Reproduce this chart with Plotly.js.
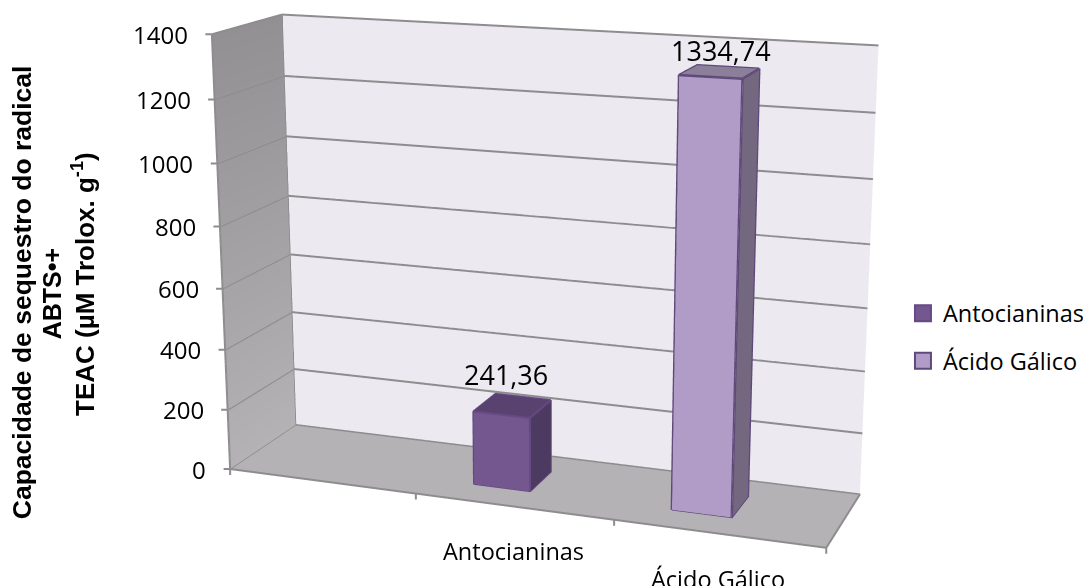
<!DOCTYPE html>
<html><head><meta charset="utf-8">
<script src="https://cdn.plot.ly/plotly-3.0.1.min.js"></script>
<style>html,body{margin:0;padding:0;background:#fff;overflow:hidden;width:1083px;height:586px}#chart{position:absolute}</style>
</head><body><div id="chart"></div>
<script>
var categories = ["", "Antocianinas", "Ácido Gálico"];
var values = [null, 241.36, 1334.74];
var yTicks = [0, 200, 400, 600, 800, 1000, 1200, 1400];
var yTitleLines = ["Capacidade de sequestro do radical", "ABTS•+", "TEAC (µM Trolox. g<sup>-1</sup>)"];

// Bar placement inside the category slots and along the depth axis
var barStart = [null, 1.2145, 2.2148];
var barWidth = 0.29;
var barDepth = [0.2967, 0.701];
var depthRange = [0, 1];
var valueMax = 1400;

// Canvas is taller than the window so the 45 degree lens gives a flatter perspective
var W = 1083, H = 1760, offsetLeft = 7, offsetTop = 581.87;
function px(v) { return (v - offsetLeft) / W; }
function py(v) { return 1 - (v + offsetTop) / H; }
var chart = document.getElementById('chart');
chart.style.left = offsetLeft + 'px';
chart.style.top = (-offsetTop) + 'px';
chart.style.width = W + 'px';
chart.style.height = H + 'px';

var camera = {
  eye: {x: 1.5624, y: -4.232, z: 1.1697},
  center: {x: -0.2056, y: 0.5784, z: -0.2395},
  up: {x: 0.0007, y: 0, z: 1}
};
var aspect = {x: 1.3908, y: 0.3332, z: 1};

var faceFront = ["", "#75578F", "#B09CC6"];
var faceSide = ["", "#4D3A60", "#746880"];
var faceTop = ["", "#5A4270", "#8B7F9A"];
var edge = ["", "#654A85", "#5F497A"];
var edgeWidth = [0, 4, 5];
var gridColor = '#8E8C8E';
var flat = {ambient: 1, diffuse: 0, specular: 0, roughness: 1, fresnel: 0};
var nCats = categories.length;

var traces = [];

// Left wall, darker towards the top
traces.push({type: 'mesh3d', x: [0, 0, 0, 0], y: [0, 1, 1, 0], z: [0, 0, valueMax, valueMax],
  i: [0, 0], j: [1, 2], k: [2, 3],
  vertexcolor: ['#B4B2B4', '#B4B2B4', '#929092', '#929092'], lighting: flat, hoverinfo: 'skip'});

// Gridlines run across the left wall and then the back wall
var gx = [], gy = [], gz = [];
yTicks.forEach(function (t) {
  gx.push(0, 0, nCats, null); gy.push(0, 1, 1, null); gz.push(t, t, t, null);
});
traces.push({type: 'scatter3d', mode: 'lines', x: gx, y: gy, z: gz,
  line: {color: gridColor, width: 4}, hoverinfo: 'skip', showlegend: false});

// One box per valued category, with its outline and a legend entry
values.forEach(function (v, i) {
  if (v === null) return;
  var a = barStart[i], b = a + barWidth, d0 = barDepth[0], d1 = barDepth[1];
  var X = [a, b, b, a, a, b, b, a], Y = [d0, d0, d1, d1, d0, d0, d1, d1], Z = [0, 0, 0, 0, v, v, v, v];
  var f = faceFront[i], s = faceSide[i], t = faceTop[i];
  traces.push({type: 'mesh3d', x: X, y: Y, z: Z,
    i: [0, 0, 1, 1, 4, 4, 3, 3, 0, 0, 0, 0], j: [1, 5, 2, 6, 5, 6, 2, 6, 3, 7, 1, 2], k: [5, 4, 6, 5, 6, 7, 6, 7, 7, 4, 2, 3],
    facecolor: [f, f, s, s, t, t, s, s, s, s, s, s], flatshading: true, lighting: flat, hoverinfo: 'skip'});
  var loop = [0, 1, 2, 6, 5, 4, 0, null, 1, 5, null, 4, 7, 6];
  function pick(arr) { return loop.map(function (k) { return k === null ? null : arr[k]; }); }
  traces.push({type: 'scatter3d', mode: 'lines', x: pick(X), y: pick(Y), z: pick(Z),
    line: {color: edge[i], width: edgeWidth[i]}, hoverinfo: 'skip', showlegend: false});
  traces.push({type: 'scatter3d', mode: 'markers', x: [null], y: [null], z: [null], name: categories[i],
    legendgroup: categories[i], showlegend: true, hoverinfo: 'skip',
    marker: {symbol: 'square', size: 16, color: f, line: {color: edge[i], width: 2}}});
});

// Floor outline and the two vertical wall edges at the left
traces.push({type: 'scatter3d', mode: 'lines',
  x: [0, nCats, nCats, 0, 0, null, 0, 0, null, 0, 0],
  y: [0, 0, 1, 1, 0, null, 0, 0, null, 1, 1],
  z: [0, 0, 0, 0, 0, null, 0, valueMax, null, 0, valueMax],
  line: {color: gridColor, width: 4}, hoverinfo: 'skip', showlegend: false});

var sansFont = {family: 'Open Sans', size: 23.5, color: '#000'};
var sceneAnn = [];
function tick(x, y, z, ax, ay) {
  return {x: x, y: y, z: z, text: ' ', showarrow: true, arrowhead: 0, arrowwidth: 2, arrowcolor: gridColor,
    ax: ax, ay: ay, standoff: 0, startstandoff: 0, font: {size: 1}};
}
yTicks.forEach(function (t) {
  sceneAnn.push({x: 0, y: 0, z: t, text: String(t), showarrow: false, xanchor: 'right', xshift: -22,
    font: {family: 'Open Sans', size: 24, color: '#000'}});
  sceneAnn.push(tick(0, 0, t, -8, 0));
});
for (var c = 0; c <= nCats; c++) sceneAnn.push(tick(c, 0, 0, 0, 8));

// Value labels sit above each box, category names below the floor edge
var labelDx = [0, -6, 2], labelDy = [0, 31, 21];
values.forEach(function (v, i) {
  if (v === null) return;
  sceneAnn.push({x: barStart[i] + barWidth / 2, y: (barDepth[0] + barDepth[1]) / 2, z: v,
    text: String(v).replace('.', ','), showarrow: false, xshift: labelDx[i], yshift: labelDy[i],
    font: {family: 'Open Sans', size: 27, color: '#000'}});
  sceneAnn.push({x: i + 0.5, y: 0, z: 0, text: categories[i], showarrow: false, yshift: -45, xshift: 0, font: sansFont});
});

var bare = {showticklabels: false, showgrid: false, zeroline: false, title: {text: ''}, showspikes: false};
var titleX = [23, 52, 85], titleY = [292.5, 294, 284], titleSize = [26.5, 25, 26];
var layout = {
  margin: {l: 0, r: 0, t: 0, b: 0}, paper_bgcolor: '#fff', width: W, height: H,
  showlegend: true,
  legend: {x: px(913), y: py(291.5), xanchor: 'left', yanchor: 'top', tracegroupgap: 14, font: sansFont},
  annotations: yTitleLines.map(function (s, i) {
    return {xref: 'paper', yref: 'paper', x: px(titleX[i]), y: py(titleY[i]), xanchor: 'center', yanchor: 'middle',
      text: '<b>' + s + '</b>', textangle: -90, showarrow: false,
      font: {family: 'Liberation Sans', size: titleSize[i], color: '#000'}};
  }),
  scene: {
    domain: {x: [0, 1], y: [0, 1]}, camera: camera, aspectmode: 'manual', aspectratio: aspect,
    dragmode: false, annotations: sceneAnn,
    xaxis: Object.assign({}, bare, {range: [0, nCats], showbackground: false}),
    yaxis: Object.assign({}, bare, {range: depthRange, showbackground: true, backgroundcolor: '#ECEAF0'}),
    zaxis: Object.assign({}, bare, {range: [0, valueMax], showbackground: true, backgroundcolor: '#B5B2B5'})
  }
};
Plotly.newPlot('chart', traces, layout, {displayModeBar: false});
</script></body></html>
